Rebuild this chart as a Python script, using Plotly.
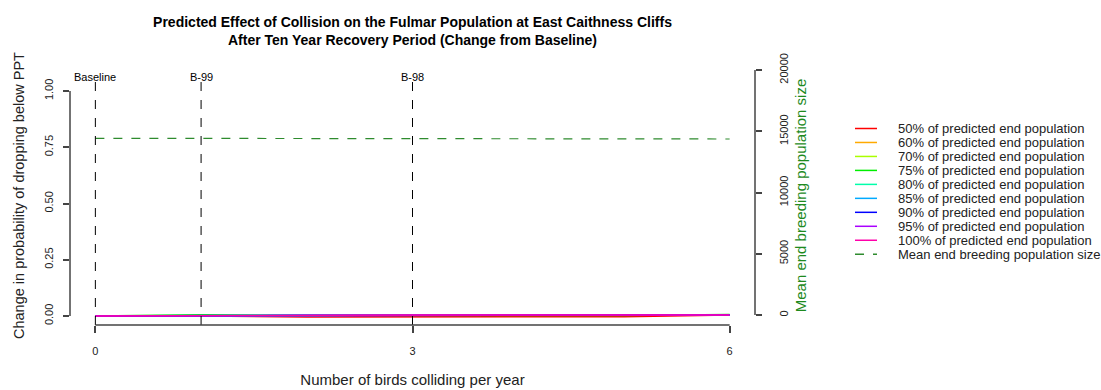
import plotly.graph_objects as go

# Birds colliding per year
birds = [0, 1, 2, 3, 4, 5, 6]

# Change in probability of dropping below PPT, per threshold
threshold_names = [
    "50% of predicted end population",
    "60% of predicted end population",
    "70% of predicted end population",
    "75% of predicted end population",
    "80% of predicted end population",
    "85% of predicted end population",
    "90% of predicted end population",
    "95% of predicted end population",
    "100% of predicted end population",
]
threshold_colors = ["#FF0000", "#FFAA00", "#AAFF00", "#00EE00", "#00FFAA",
                    "#00AAFF", "#0000FF", "#AA00FF", "#FF00AA"]
prob_50 = [0, 0, -0.004, -0.004, -0.004, -0.003, 0.004]
prob_60 = [0, 0, 0.002, 0.004, 0.004, 0.004, 0.004]
prob_70 = [0, 0, 0.002, 0.004, 0.004, 0.004, 0.004]
prob_75 = [0, 0.005, 0.003, 0.003, 0.003, 0.002, 0.007]
prob_80 = [0, 0, 0.002, 0.004, 0.004, 0.004, 0.004]
prob_85 = [0, 0.003, 0.005, 0.004, 0.004, 0.004, 0.004]
prob_90 = [0, 0.001, 0.004, 0.004, 0.004, 0.004, 0.004]
prob_95 = [0, 0.001, 0.005, 0.004, 0.004, 0.004, 0.004]
prob_100 = [0, 0, 0.003, 0.004, 0.004, 0.004, 0.004]
prob_series = [prob_50, prob_60, prob_70, prob_75, prob_80,
               prob_85, prob_90, prob_95, prob_100]

# Mean end breeding population size
mean_pop = [14425, 14418, 14410, 14405, 14392, 14380, 14368]
mean_pop_name = "Mean end breeding population size"

# Scenario markers
scenario_x = [0, 1, 3]
scenario_labels = ["Baseline", "B-99", "B-98"]

TXT = "#222222"
FONT = "Liberation Sans, Arial, sans-serif"
POP_GREEN = "#2E8B2E"

# plot area in pixels: x 70..755, y 66..325
PL, PR, PT, PB = 70, 755, 66, 325
W, H = 1101, 390


def px_to_paper(px, py):
    return (px - PL) / (PR - PL), (PB - py) / (PB - PT)


fig = go.Figure()

for name, color, vals in zip(threshold_names, threshold_colors, prob_series):
    fig.add_trace(go.Scatter(x=birds, y=vals, mode="lines", name=name,
                             line=dict(color=color, width=1.5), showlegend=False))

fig.add_trace(go.Scatter(x=birds, y=mean_pop, mode="lines", name=mean_pop_name,
                         line=dict(color=POP_GREEN, width=1.2, dash="dash"),
                         yaxis="y2", showlegend=False))

shapes = []
annotations = []

# scenario dashed verticals + labels
for sx, lab in zip(scenario_x, scenario_labels):
    shapes.append(dict(type="line", xref="x", yref="y", x0=sx, x1=sx, y0=-0.04, y1=1.04,
                       line=dict(color="black", width=1, dash="dash")))
    annotations.append(dict(x=sx, y=1.062, xref="x", yref="y", text=lab, showarrow=False,
                            font=dict(size=11, color="black", family=FONT),
                            xanchor="center", yanchor="middle"))

# R-style axis lines spanning only tick range
shapes.append(dict(type="line", xref="x", yref="paper", x0=0, x1=6, y0=0, y1=0,
                   line=dict(color="#444", width=1.5)))
shapes.append(dict(type="line", xref="paper", yref="y", x0=0, x1=0, y0=0, y1=1,
                   line=dict(color="#444", width=1.5)))
shapes.append(dict(type="line", xref="paper", yref="y2", x0=1, x1=1, y0=0, y1=20000,
                   line=dict(color="#444", width=1.5)))

# manual legend
leg_items = list(zip(threshold_names, threshold_colors, ["solid"] * 9))
leg_items.append((mean_pop_name, POP_GREEN, "dash"))
for i, (name, color, dash) in enumerate(leg_items):
    py = 128.5 + i * 13.97
    x0, y0 = px_to_paper(855, py)
    x1, _ = px_to_paper(877, py)
    tx, _ = px_to_paper(896, py)
    shapes.append(dict(type="line", xref="paper", yref="paper", x0=x0, x1=x1, y0=y0, y1=y0,
                       line=dict(color=color, width=1.5, dash=dash)))
    annotations.append(dict(x=tx, y=y0, xref="paper", yref="paper", text=name, showarrow=False,
                            font=dict(size=13, color=TXT, family=FONT),
                            xanchor="left", yanchor="middle"))

fig.update_layout(
    width=W, height=H,
    margin=dict(l=PL, r=W - PR, t=PT, b=H - PB, autoexpand=False),
    paper_bgcolor="white", plot_bgcolor="white",
    font=dict(family=FONT, color=TXT),
    title=dict(text="Predicted Effect of Collision on the Fulmar Population at East Caithness Cliffs"
                    "<br>After Ten Year Recovery Period (Change from Baseline)",
               x=0.5, xref="paper", y=1 - 27 / H, yref="container",
               xanchor="center", yanchor="top",
               font=dict(size=14, color="black", family=FONT, weight="bold")),
    xaxis=dict(range=[-0.24, 6.24], tickvals=[0, 3, 6], ticktext=["0", "3", "6"],
               showgrid=False, zeroline=False, showline=False, automargin=False,
               ticks="outside", ticklen=7, tickcolor="#444", tickwidth=1.5,
               tickfont=dict(size=11), ticklabelstandoff=9,
               title=dict(text="Number of birds colliding per year", font=dict(size=15),
                          standoff=18)),
    yaxis=dict(range=[-0.04, (316 - PT) / 225], tickvals=[0, 0.25, 0.5, 0.75, 1.0],
               ticktext=["0.00", "0.25", "0.50", "0.75", "1.00"], tickangle=-90,
               showgrid=False, zeroline=False, showline=False, automargin=False,
               ticks="outside", ticklen=6, tickcolor="#444", tickwidth=1.5,
               tickfont=dict(size=11), ticklabelstandoff=6,
               title=dict(text="Change in probability of dropping below PPT", font=dict(size=14.5),
                          standoff=14)),
    yaxis2=dict(overlaying="y", side="right", anchor="x",
                range=[-(PB - 315) / 0.01225, (315 - PT) / 0.01225],
                tickvals=[0, 5000, 10000, 15000, 20000],
                ticktext=["0", "5000", "10000", "15000", "20000"], tickangle=-90,
                showgrid=False, zeroline=False, showline=False, automargin=False,
                ticks="outside", ticklen=6, tickcolor="#444", tickwidth=1.5,
                tickfont=dict(size=11), ticklabelstandoff=13,
                title=dict(text="Mean end breeding population size",
                           font=dict(size=15, color="#1E8A1E"), standoff=6)),
    shapes=shapes,
    annotations=annotations,
    showlegend=False,
)

# drop the browser's default 8px body margin so the figure fills the window
fig.write_html("out.html", config={"displayModeBar": False},
               post_script="document.body.style.margin='0';document.body.style.overflow='hidden';")
